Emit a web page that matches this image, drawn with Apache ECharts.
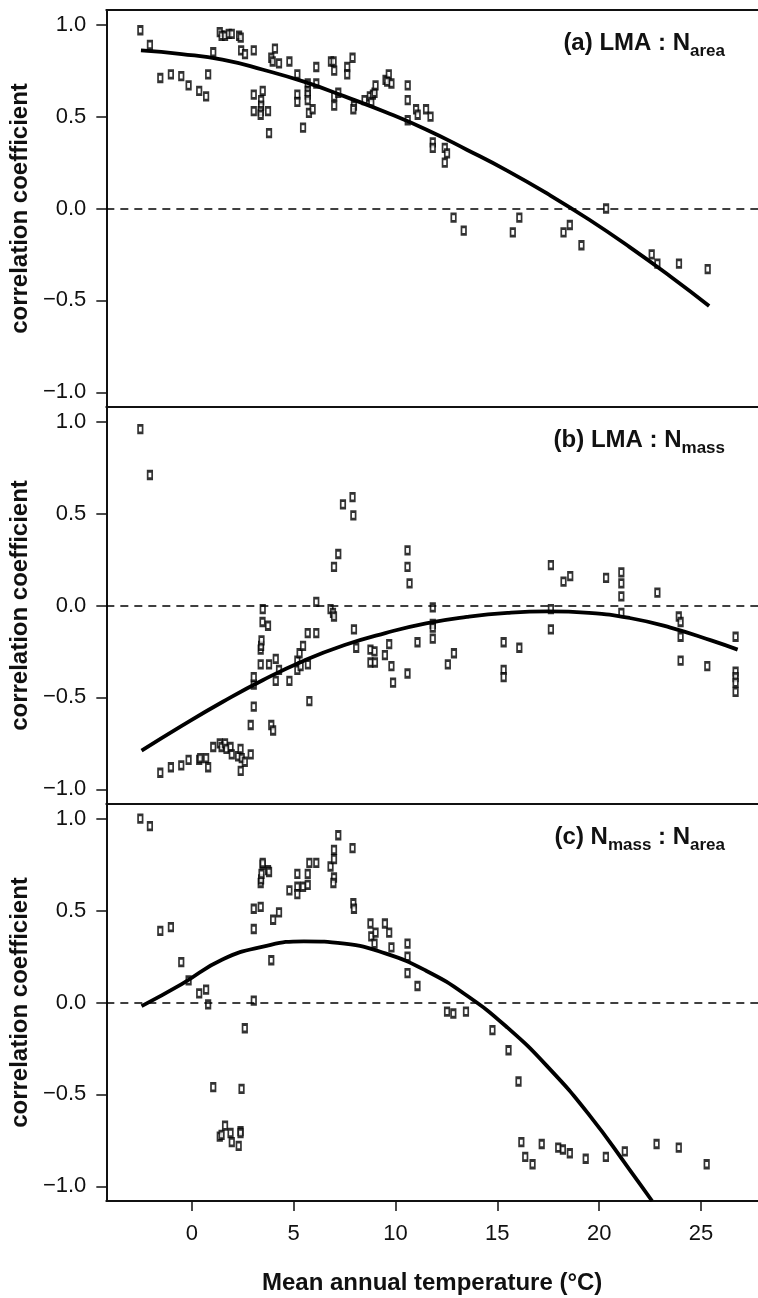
<!DOCTYPE html>
<html>
<head>
<meta charset="utf-8">
<script src="https://cdn.jsdelivr.net/npm/echarts@6/dist/echarts.min.js"></script>
<style>
  html, body { margin: 0; padding: 0; background: #fff; }
  #main { width: 758px; height: 1298px; }
</style>
</head>
<body>
<div id="main"></div>
<script>
// tick values
var xTicks = [0, 5, 10, 15, 20, 25];
var yTicks = [-1, -0.5, 0, 0.5, 1];

// (a) LMA : Narea
var aTemp = [-2.53, -2.06, -1.55, -1.03, -0.52, -0.16, 0.36, 0.70, 0.80, 1.05, 1.37, 1.46, 1.63, 1.81, 1.96, 2.32, 2.40, 2.42, 2.61,
  3.04, 3.04, 3.04, 3.48, 3.40, 3.40, 3.38, 3.38, 3.74, 3.79, 4.08, 3.90, 3.97, 4.28, 4.79, 5.18, 5.18, 5.18, 5.46,
  5.69, 5.69, 5.69, 5.69, 5.75, 5.93, 6.11, 6.11, 6.83, 6.96, 6.99, 6.99, 6.99, 7.19, 7.63, 7.63, 7.89, 7.96, 7.93,
  8.48, 8.74, 8.81, 8.89, 8.97, 9.02, 9.51, 9.67, 9.80, 9.59, 10.60, 10.60, 10.60, 11.01, 11.09, 11.50, 11.72,
  11.83, 11.83, 12.42, 12.53, 12.42, 12.85, 13.35, 15.76, 16.08, 18.25, 18.56, 19.13, 20.34, 22.58, 22.86, 23.92, 25.33];
var aCorr = [0.97, 0.89, 0.71, 0.73, 0.72, 0.67, 0.64, 0.61, 0.73, 0.85, 0.96, 0.94, 0.94, 0.95, 0.95, 0.94, 0.93, 0.86, 0.84,
  0.86, 0.62, 0.53, 0.64, 0.59, 0.56, 0.53, 0.51, 0.53, 0.41, 0.87, 0.82, 0.80, 0.79, 0.80, 0.73, 0.62, 0.58, 0.44,
  0.68, 0.64, 0.62, 0.59, 0.52, 0.54, 0.77, 0.68, 0.80, 0.80, 0.75, 0.61, 0.56, 0.63, 0.77, 0.73, 0.82, 0.56, 0.54,
  0.59, 0.61, 0.58, 0.62, 0.63, 0.67, 0.70, 0.73, 0.68, 0.69, 0.67, 0.59, 0.48, 0.54, 0.51, 0.54, 0.50,
  0.36, 0.33, 0.33, 0.30, 0.25, -0.05, -0.12, -0.13, -0.05, -0.13, -0.09, -0.20, 0.00, -0.25, -0.30, -0.30, -0.33];
var aFitTemp = [-2.5, -0.5, 1.5, 3.5, 5.5, 7.5, 9.5, 11.5, 13.5, 15.5, 17.5, 19.5, 21.5, 23.5, 25.4];
var aFitCorr = [0.86, 0.84, 0.81, 0.755, 0.69, 0.61, 0.525, 0.43, 0.32, 0.205, 0.078, -0.06, -0.21, -0.37, -0.53];

// (b) LMA : Nmass
var bTemp = [-2.53, -2.06, -1.55, -1.03, -0.52, -0.16, 0.36, 0.41, 0.70, 0.80, 1.05, 1.37, 1.46, 1.63, 1.70, 1.90, 1.96, 2.27,
  2.39, 2.40, 2.45, 2.60, 2.89, 2.89, 3.04, 3.04, 3.04, 3.38, 3.38, 3.40, 3.42, 3.47, 3.48, 3.74, 3.79, 3.90, 3.99,
  4.12, 4.12, 4.28, 4.79, 5.18, 5.18, 5.29, 5.34, 5.46, 5.69, 5.70, 5.77, 6.11, 6.11, 6.81, 6.93, 6.98, 6.98, 7.19,
  7.42, 7.89, 7.93, 7.96, 8.07, 8.77, 8.97, 8.77, 8.99, 9.48, 9.69, 9.80, 9.88, 10.59, 10.59, 10.69, 10.59, 11.08,
  11.83, 11.83, 11.83, 11.83, 12.57, 12.87, 15.31, 15.31, 15.31, 16.08, 17.63, 17.63, 17.63, 18.25, 18.58, 20.34,
  21.09, 21.09, 21.09, 21.09, 22.86, 23.91, 24.00, 24.00, 24.00, 25.31, 26.70, 26.70, 26.70, 26.70, 26.70];
var bCorr = [0.96, 0.71, -0.91, -0.88, -0.87, -0.84, -0.84, -0.83, -0.83, -0.88, -0.77, -0.75, -0.77, -0.75, -0.78, -0.77, -0.81, -0.82,
  -0.78, -0.90, -0.83, -0.85, -0.81, -0.65, -0.55, -0.43, -0.39, -0.32, -0.24, -0.22, -0.19, -0.09, -0.02, -0.11, -0.32, -0.65, -0.68,
  -0.29, -0.41, -0.35, -0.41, -0.35, -0.30, -0.26, -0.33, -0.22, -0.15, -0.32, -0.52, -0.15, 0.02, -0.02, -0.04, -0.06, 0.21, 0.28,
  0.55, 0.59, 0.49, -0.13, -0.23, -0.24, -0.25, -0.31, -0.31, -0.27, -0.21, -0.33, -0.42, 0.30, 0.21, 0.12, -0.37, -0.20,
  -0.01, -0.10, -0.12, -0.18, -0.32, -0.26, -0.20, -0.35, -0.39, -0.23, 0.22, -0.02, -0.13, 0.13, 0.16, 0.15,
  0.18, 0.12, 0.05, -0.04, 0.07, -0.06, -0.09, -0.17, -0.30, -0.33, -0.17, -0.36, -0.39, -0.42, -0.47];
var bFitTemp = [-2.47, -0.5, 1.5, 3.5, 5.5, 7.5, 9.5, 11.5, 13.5, 15.5, 17.5, 19.5, 21.5, 23.5, 25.5, 26.8];
var bFitCorr = [-0.79, -0.655, -0.525, -0.405, -0.30, -0.215, -0.15, -0.097, -0.062, -0.04, -0.032, -0.04, -0.068, -0.12, -0.19, -0.24];

// (c) Nmass : Narea
var cTemp = [-2.53, -2.06, -1.55, -1.03, -0.52, -0.16, 0.36, 0.70, 0.80, 1.05, 1.37, 1.46, 1.63, 1.90, 1.96, 2.30, 2.39, 2.39,
  2.44, 2.60, 3.04, 3.04, 3.04, 3.38, 3.38, 3.40, 3.42, 3.47, 3.48, 3.74, 3.79, 3.90, 3.99, 4.28, 4.79, 5.18, 5.18,
  5.18, 5.46, 5.69, 5.69, 5.77, 6.11, 6.81, 6.98, 6.98, 6.98, 6.95, 7.19, 7.89, 7.93, 7.96, 8.77, 8.81, 9.02, 8.97,
  9.48, 9.69, 9.80, 10.59, 10.59, 10.59, 11.08, 12.53, 12.84, 13.46, 14.76, 15.55, 16.04, 16.18, 16.37, 16.73,
  17.18, 17.99, 18.22, 18.56, 19.34, 20.33, 21.26, 22.82, 23.91, 25.28];
var cCorr = [1.00, 0.96, 0.39, 0.41, 0.22, 0.12, 0.05, 0.07, -0.01, -0.46, -0.73, -0.72, -0.67, -0.71, -0.76, -0.78, -0.70, -0.71,
  -0.47, -0.14, 0.01, 0.40, 0.51, 0.52, 0.65, 0.67, 0.70, 0.75, 0.76, 0.72, 0.71, 0.23, 0.45, 0.49, 0.61, 0.70, 0.63,
  0.59, 0.63, 0.70, 0.64, 0.76, 0.76, 0.74, 0.83, 0.78, 0.68, 0.65, 0.91, 0.84, 0.54, 0.51, 0.43, 0.36, 0.38, 0.32,
  0.43, 0.38, 0.30, 0.32, 0.25, 0.16, 0.09, -0.05, -0.06, -0.05, -0.15, -0.26, -0.43, -0.76, -0.84, -0.88,
  -0.77, -0.79, -0.80, -0.82, -0.85, -0.84, -0.81, -0.77, -0.79, -0.88];
var cFitTemp = [-2.47, -0.5, 1.5, 3.5, 5.5, 7.5, 9.5, 11.5, 13.5, 15.5, 17.5, 19.5, 21.5, 22.6];
var cFitCorr = [-0.02, 0.10, 0.234, 0.304, 0.333, 0.32, 0.267, 0.173, 0.038, -0.137, -0.353, -0.61, -0.91, -1.08];

var panels = [
  {label: '{m|(a) LMA : N}{s|area}', temp: aTemp, corr: aCorr, fitT: aFitTemp, fitC: aFitCorr},
  {label: '{m|(b) LMA : N}{s|mass}', temp: bTemp, corr: bCorr, fitT: bFitTemp, fitC: bFitCorr},
  {label: '{m|(c) N}{s|mass}{m| : N}{s|area}', temp: cTemp, corr: cCorr, fitT: cFitTemp, fitC: cFitCorr}
];

var font = '"Liberation Sans", Arial, Helvetica, sans-serif';
var panelTop = 10, panelH = 397;
var frame = {show: true, onZero: false, lineStyle: {color: '#111', width: 2}};

function pairs(xs, ys) {
  return xs.map(function (x, i) { return [x, ys[i]]; });
}
function fmt(v) {
  return v < 0 ? '\u2212' + (-v).toFixed(1) : v.toFixed(1);
}

var chart = echarts.init(document.getElementById('main'));

var grids = [], xAxes = [], yAxes = [], series = [], titles = [];
panels.forEach(function (p, i) {
  var last = i === panels.length - 1;
  // the box is open on the right, the original is cropped there
  grids.push({left: 105, right: 0, top: panelTop + panelH * i, height: panelH});
  xAxes.push({
    type: 'value', gridIndex: i, min: -4.2, max: 27.8,
    axisLine: frame,
    splitLine: {show: false},
    axisTick: {show: last, customValues: xTicks, length: 10, lineStyle: {color: '#111', width: 1.5}},
    axisLabel: {show: last, customValues: xTicks, margin: 22, fontSize: 22, color: '#111', fontFamily: font},
    name: last ? 'Mean annual temperature (\u00B0C)' : '',
    nameLocation: 'middle', nameGap: 70,
    nameTextStyle: {fontSize: 24, fontWeight: 'bold', color: '#111', fontFamily: font}
  });
  yAxes.push({
    type: 'value', gridIndex: i, min: -1.08, max: 1.08,
    axisLine: frame,
    splitLine: {show: false},
    axisTick: {show: true, customValues: yTicks, length: 10, lineStyle: {color: '#111', width: 1.5}},
    axisLabel: {customValues: yTicks, margin: 20, fontSize: 22, color: '#111', fontFamily: font, formatter: fmt},
    name: 'correlation coefficient',
    nameLocation: 'middle', nameRotate: 90, nameGap: 64,
    nameTextStyle: {fontSize: 24, fontWeight: 'bold', color: '#111', fontFamily: font}
  });
  series.push({
    type: 'scatter', xAxisIndex: i, yAxisIndex: i,
    data: pairs(p.temp, p.corr),
    symbol: 'rect', symbolSize: [4.5, 7.5],
    itemStyle: {color: '#fff', borderColor: '#000', borderWidth: 2.2},
    markLine: {
      silent: true, symbol: ['none', 'none'], label: {show: false},
      lineStyle: {color: '#000', width: 1.5, type: [8, 6]},
      data: [{yAxis: 0}]
    }
  });
  series.push({
    type: 'line', xAxisIndex: i, yAxisIndex: i,
    data: pairs(p.fitT, p.fitC),
    smooth: true, showSymbol: false, symbol: 'none',
    lineStyle: {color: '#000', width: 3.8}
  });
  titles.push({
    text: p.label, right: 28, top: panelTop + panelH * i + 19,
    textStyle: {
      rich: {
        m: {fontSize: 24, fontWeight: 'bold', color: '#111', fontFamily: font, lineHeight: 26, verticalAlign: 'bottom', padding: [0, 0, 5, 0]},
        s: {fontSize: 17, fontWeight: 'bold', color: '#111', fontFamily: font, lineHeight: 17, verticalAlign: 'bottom'}
      }
    }
  });
});

// top edge of the first panel
xAxes.push({
  type: 'value', gridIndex: 0, position: 'top', min: -4.2, max: 27.8,
  axisLine: frame, axisTick: {show: false}, axisLabel: {show: false}, splitLine: {show: false}
});

chart.setOption({
  animation: false,
  backgroundColor: '#fff',
  title: titles,
  grid: grids,
  xAxis: xAxes,
  yAxis: yAxes,
  series: series
});
</script>
</body>
</html>
